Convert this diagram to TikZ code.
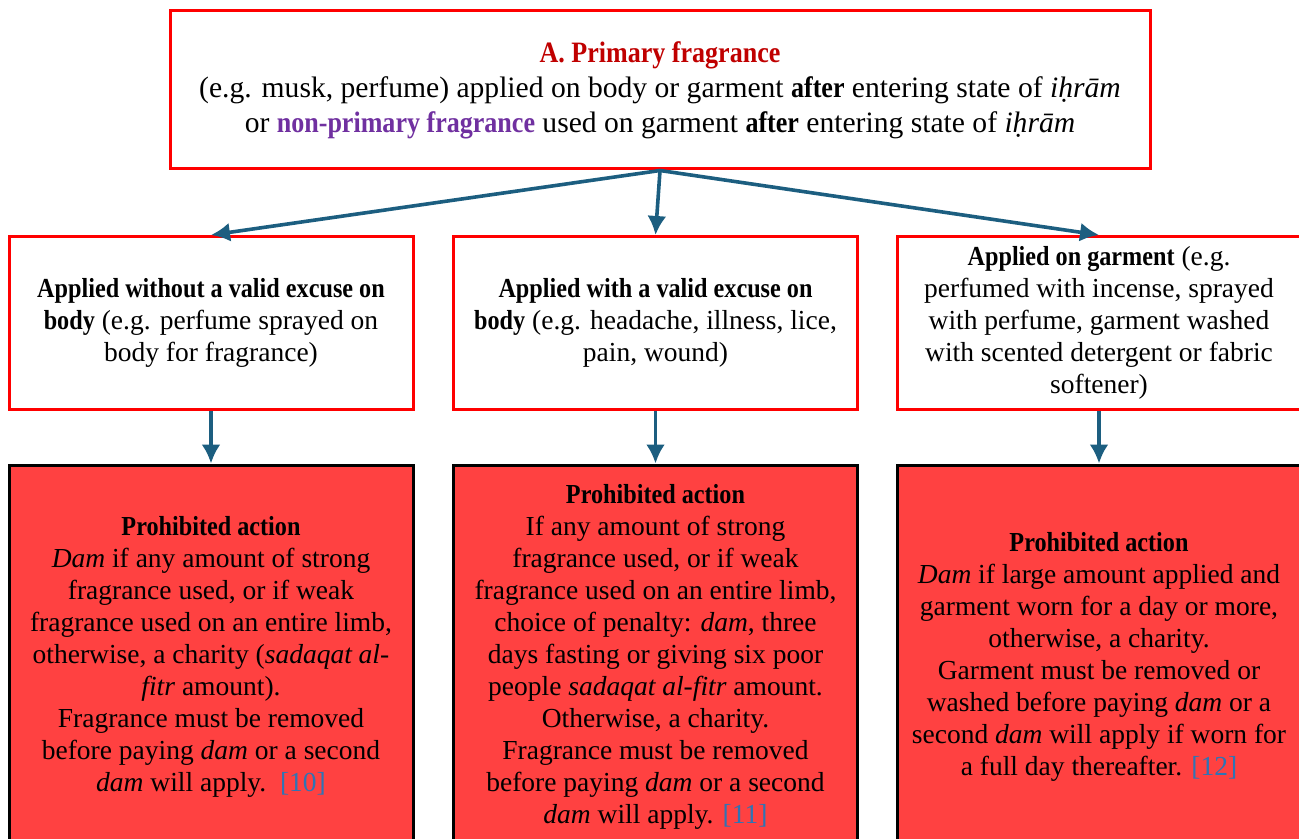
\documentclass[tikz,border=0pt]{standalone}
\usepackage{fontspec}
\setmainfont{Liberation Serif}[BoldFeatures={FakeStretch=0.88}]
\usetikzlibrary{arrows.meta}

\definecolor{boxred}{RGB}{255,0,0}
\definecolor{penfill}{RGB}{255,65,65}
\definecolor{titlered}{RGB}{192,0,0}
\definecolor{npurple}{RGB}{112,48,160}
\definecolor{flowblue}{RGB}{28,94,128}
\definecolor{refblue}{RGB}{46,116,181}

\newcommand{\refmark}[1]{\textcolor{refblue}{[#1]}}

\tikzset{
  casebox/.style={draw=boxred, line width=1.5pt, fill=white, align=center,
    minimum width=202pt, minimum height=86.5pt, inner sep=3pt,
    font=\fontsize{13.75}{16}\selectfont},
  penaltybox/.style={draw=black, line width=1.5pt, fill=penfill, align=center,
    minimum width=202pt, minimum height=192pt, inner sep=3pt,
    font=\fontsize{13.75}{16}\selectfont},
  flow/.style={-{Latex[length=9.5pt,width=9.5pt]}, draw=flowblue, line width=1.8pt}
}

\begin{document}
\begin{tikzpicture}[x=0.5pt, y=-0.5pt]
\clip (0,0) rectangle (1299,839);
\fill[white] (0,0) rectangle (1299,839);

% top box
\node[draw=boxred, line width=1.5pt, align=center, minimum width=490pt, minimum height=79pt,
  font=\fontsize{14.8}{17.5}\selectfont] at (660,90) (prim)
  {{\color{titlered}\textbf{A. Primary fragrance}}\\
   (e.g. musk, perfume) applied on body or garment \textbf{after} entering state of \textit{iḥrām}\\
   or {\color{npurple}\textbf{non-primary fragrance}} used on garment \textbf{after} entering state of \textit{iḥrām}};

% middle row
\node[casebox] at (211,323) (nobody)
  {\textbf{Applied without a valid excuse on}\\
   \textbf{body} (e.g. perfume sprayed on\\
   body for fragrance)};
\node[casebox] at (655.5,323) (withbody)
  {\textbf{Applied with a valid excuse on}\\
   \textbf{body} (e.g. headache, illness, lice,\\
   pain, wound)};
\node[casebox] at (1099,323) (garment)
  {\textbf{Applied on garment} (e.g.\\
   perfumed with incense, sprayed\\
   with perfume, garment washed\\
   with scented detergent or fabric\\
   softener)};

% bottom row
\node[penaltybox] at (211,657) (pnobody)
  {\textbf{Prohibited action}\\
   \textit{Dam} if any amount of strong\\
   fragrance used, or if weak\\
   fragrance used on an entire limb,\\
   otherwise, a charity (\textit{sadaqat al-}\\
   \textit{fitr} amount).\\
   Fragrance must be removed\\
   before paying \textit{dam} or a second\\
   \textit{dam} will apply.~~\refmark{10}};
\node[penaltybox] at (655.5,657) (pwithbody)
  {\textbf{Prohibited action}\\
   If any amount of strong\\
   fragrance used, or if weak\\
   fragrance used on an entire limb,\\
   choice of penalty: \textit{dam}, three\\
   days fasting or giving six poor\\
   people \textit{sadaqat al-fitr} amount.\\
   Otherwise, a charity.\\
   Fragrance must be removed\\
   before paying \textit{dam} or a second\\
   \textit{dam} will apply. \refmark{11}};
\node[penaltybox] at (1099,657) (pgarment)
  {\textbf{Prohibited action}\\
   \textit{Dam} if large amount applied and\\
   garment worn for a day or more,\\
   otherwise, a charity.\\
   Garment must be removed or\\
   washed before paying \textit{dam} or a\\
   second \textit{dam} will apply if worn for\\
   a full day thereafter. \refmark{12}};

\draw[flow] (prim.south) -- (nobody.north);
\draw[flow] (prim.south) -- (withbody.north);
\draw[flow] (prim.south) -- (garment.north);

\draw[flow] (nobody.south) -- (pnobody.north);
\draw[flow] (withbody.south) -- (pwithbody.north);
\draw[flow] (garment.south) -- (pgarment.north);

\end{tikzpicture}
\end{document}
